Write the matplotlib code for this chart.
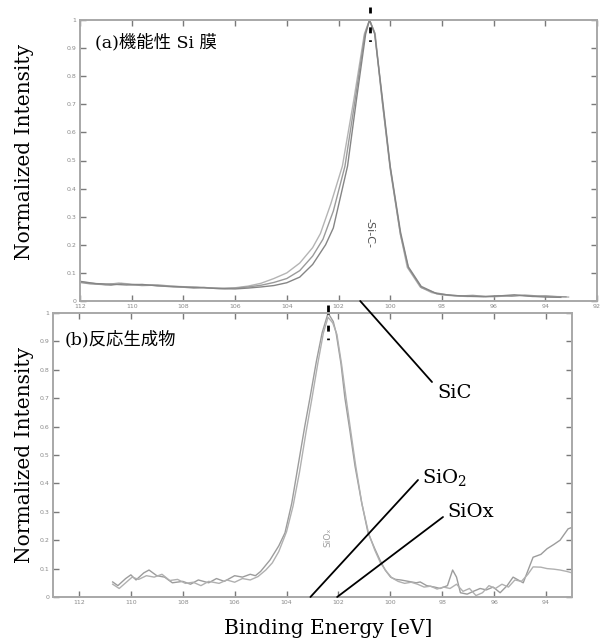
"""
XPS Si 2p spectra: (a) functional Si film, (b) reaction product.
"""
import matplotlib
matplotlib.use('Agg')
import matplotlib.pyplot as plt
from matplotlib.patches import ConnectionPatch

plt.rcParams['font.family'] = ['DejaVu Serif', 'Noto Sans CJK JP']
plt.rcParams['mathtext.fontset'] = 'dejavuserif'
plt.rcParams['lines.scale_dashes'] = False

# ---- panel (a): three Si-C spectra ----
a_energy = [112.0, 111.5, 111.0, 110.5, 110.0, 109.5, 109.0, 108.5, 108.0, 107.5,
            107.0, 106.5, 106.0, 105.5, 105.0, 104.5, 104.0, 103.5, 103.0, 102.7,
            102.3, 101.85, 101.4, 101.0, 100.8, 100.58, 100.31, 100.0, 99.61, 99.34,
            98.84, 98.4, 98.0, 97.5, 97.0, 96.5, 96.0, 95.5, 95.0, 94.5,
            94.0, 93.5, 93.1]
a_int = [0.068, 0.063, 0.058, 0.064, 0.060, 0.057, 0.058, 0.053, 0.051, 0.050,
         0.047, 0.046, 0.047, 0.053, 0.063, 0.080, 0.100, 0.135, 0.190, 0.240,
         0.345, 0.480, 0.720, 0.950, 1.000, 0.950, 0.715, 0.477, 0.240, 0.120,
         0.050, 0.030, 0.022, 0.018, 0.016, 0.017, 0.015, 0.018, 0.020, 0.016,
         0.019, 0.015, 0.014]

b_energy = [112.0, 111.6, 111.2, 110.8, 110.4, 110.0, 109.6, 109.2, 108.8, 108.4,
            108.0, 107.6, 107.2, 106.8, 106.4, 106.0, 105.5, 105.0, 104.5, 104.0,
            103.5, 103.0, 102.6, 102.2, 101.75, 101.35, 100.98, 100.8, 100.6, 100.3,
            100.0, 99.6, 99.3, 98.8, 98.3, 97.8, 97.3, 96.8, 96.3, 95.8,
            95.3, 94.8, 94.3, 93.8, 93.2]
b_int = [0.066, 0.061, 0.059, 0.056, 0.062, 0.058, 0.055, 0.056, 0.053, 0.050,
         0.049, 0.046, 0.048, 0.045, 0.044, 0.046, 0.050, 0.056, 0.066, 0.080,
         0.108, 0.160, 0.220, 0.320, 0.480, 0.720, 0.950, 1.000, 0.955, 0.705,
         0.470, 0.235, 0.118, 0.048, 0.030, 0.022, 0.018, 0.020, 0.016, 0.019,
         0.017, 0.021, 0.018, 0.016, 0.015]

c_energy = [112.0, 111.4, 110.8, 110.2, 109.6, 109.0, 108.4, 107.8, 107.2, 106.6,
            106.0, 105.5, 105.0, 104.5, 104.0, 103.5, 103.0, 102.5, 102.2, 101.65,
            101.3, 100.95, 100.8, 100.6, 100.3, 100.0, 99.6, 99.3, 98.8, 98.2,
            97.6, 97.0, 96.4, 95.8, 95.2, 94.6, 94.0, 93.4]
c_int = [0.070, 0.062, 0.060, 0.057, 0.059, 0.054, 0.052, 0.049, 0.047, 0.044,
         0.043, 0.046, 0.050, 0.055, 0.065, 0.085, 0.130, 0.200, 0.260, 0.480,
         0.720, 0.950, 1.000, 0.950, 0.720, 0.480, 0.245, 0.122, 0.052, 0.026,
         0.020, 0.017, 0.015, 0.018, 0.022, 0.017, 0.014, 0.013]

# ---- panel (b): two SiOx spectra ----
s1_energy = [110.7, 110.5, 110.2, 110.0, 109.8, 109.5, 109.3, 109.0, 108.7, 108.4,
             108.0, 107.7, 107.4, 107.0, 106.7, 106.4, 106.0, 105.7, 105.4, 105.2,
             105.0, 104.64, 104.3, 104.06, 103.8, 103.56, 103.3, 103.1, 102.85, 102.63,
             102.4, 102.2, 102.09, 101.9, 101.75, 101.55, 101.36, 101.1, 100.86, 100.6,
             100.4, 100.2, 99.99, 99.8, 99.6, 99.3, 99.0, 98.85, 98.6, 98.3,
             98.08, 97.8, 97.6, 97.45, 97.3, 97.04, 96.8, 96.54, 96.3, 96.04,
             95.77, 95.5, 95.27, 94.88, 94.5, 94.2, 93.96, 93.7, 93.46, 93.15,
             93.0]
s1_int = [0.053, 0.040, 0.065, 0.078, 0.060, 0.085, 0.095, 0.075, 0.070, 0.050,
          0.055, 0.045, 0.060, 0.050, 0.065, 0.055, 0.075, 0.070, 0.080, 0.075,
          0.090, 0.130, 0.180, 0.226, 0.330, 0.460, 0.600, 0.700, 0.830, 0.930,
          1.000, 0.970, 0.930, 0.820, 0.700, 0.580, 0.460, 0.330, 0.226, 0.170,
          0.130, 0.095, 0.070, 0.062, 0.060, 0.055, 0.050, 0.053, 0.040, 0.035,
          0.030, 0.040, 0.095, 0.070, 0.015, 0.010, 0.020, 0.030, 0.025, 0.035,
          0.015, 0.040, 0.070, 0.050, 0.140, 0.150, 0.170, 0.185, 0.200, 0.240,
          0.245]

s2_energy = [110.7, 110.45, 110.2, 109.95, 109.7, 109.4, 109.1, 108.8, 108.5, 108.2,
             107.9, 107.6, 107.3, 107.0, 106.6, 106.3, 106.0, 105.7, 105.4, 105.1,
             104.8, 104.55, 104.3, 104.0, 103.75, 103.5, 103.25, 103.02, 102.8, 102.58,
             102.4, 102.22, 102.06, 101.88, 101.72, 101.52, 101.34, 101.1, 100.84, 100.6,
             100.38, 100.15, 99.95, 99.7, 99.45, 99.2, 98.95, 98.7, 98.45, 98.2,
             97.95, 97.7, 97.45, 97.2, 96.95, 96.7, 96.45, 96.2, 95.95, 95.7,
             95.45, 95.2, 94.95, 94.7, 94.5, 94.2, 93.96, 93.7, 93.46, 93.2,
             93.0]
s2_int = [0.045, 0.030, 0.050, 0.070, 0.062, 0.075, 0.070, 0.080, 0.058, 0.062,
          0.048, 0.052, 0.040, 0.055, 0.048, 0.060, 0.052, 0.065, 0.060, 0.072,
          0.095, 0.120, 0.160, 0.230, 0.320, 0.440, 0.580, 0.700, 0.820, 0.930,
          0.985, 0.965, 0.925, 0.820, 0.710, 0.580, 0.465, 0.330, 0.225, 0.165,
          0.120, 0.090, 0.068, 0.055, 0.048, 0.052, 0.045, 0.035, 0.038, 0.028,
          0.035, 0.030, 0.045, 0.020, 0.030, 0.005, 0.015, 0.040, 0.030, 0.045,
          0.035, 0.060, 0.055, 0.080, 0.106, 0.105, 0.100, 0.098, 0.095, 0.090,
          0.085]

peak_a = 100.8          # Si-C peak position
peak_b = 102.4          # SiOx peak position
sic_anchor = 101.16     # where the SiC leader touches panel (a)
sio2_anchor = 103.08    # leader anchors on panel (b)
siox_anchor = 102.05

a_xticks = [112, 110, 108, 106, 104, 102, 100, 98, 96, 94, 92]
b_xticks = [112, 110, 108, 106, 104, 102, 100, 98, 96, 94]
y_ticks = [0, 0.1, 0.2, 0.3, 0.4, 0.5, 0.6, 0.7, 0.8, 0.9, 1.0]
y_tick_labels = ['0', '0.1', '0.2', '0.3', '0.4', '0.5', '0.6', '0.7', '0.8', '0.9', '1']

W, H = 600, 643
fig = plt.figure(figsize=(W / 100, H / 100), dpi=100)


def px_box(left, top, right, bottom):
    return [left / W, 1 - bottom / H, (right - left) / W, (bottom - top) / H]


def fig_pt(x, y):
    return (x / W, 1 - y / H)


def style_panel(ax, xlim, xticks):
    ax.set_xlim(*xlim)
    ax.set_ylim(0, 1)
    ax.set_xticks(xticks)
    ax.set_xticklabels([str(t) for t in xticks])
    ax.set_yticks(y_ticks)
    ax.set_yticklabels(y_tick_labels)
    ax.tick_params(direction='in', length=4, width=1, color='#7a7a7a',
                   labelsize=4.5, labelcolor='#8a8a8a', top=True, right=True, pad=2.5)
    for lab in ax.get_xticklabels() + ax.get_yticklabels():
        lab.set_family('DejaVu Sans')
    for s in ax.spines.values():
        s.set_color('#a8a8a8')
        s.set_linewidth(1.4)


ax_a = fig.add_axes(px_box(80, 20, 597, 301))
ax_b = fig.add_axes(px_box(53, 313, 572, 597))
style_panel(ax_a, (112, 92), a_xticks)
style_panel(ax_b, (113, 93), b_xticks)

ax_a.plot(a_energy, a_int, color='#b4b4b4', lw=1.0)
ax_a.plot(b_energy, b_int, color='#9a9a9a', lw=1.0)
ax_a.plot(c_energy, c_int, color='#858585', lw=1.0)
ax_b.plot(s1_energy, s1_int, color='#9c9c9c', lw=1.0)
ax_b.plot(s2_energy, s2_int, color='#b0b0b0', lw=1.0)

# peak markers (dash-dot, sticking out over the frame)
ax_a.plot([peak_a, peak_a], [1.046, 0.92], color='k', lw=2.0,
          dashes=[4.3, 10, 4.3, 5, 1.2, 30], clip_on=False)
ax_b.plot([peak_b, peak_b], [1.028, 0.898], color='k', lw=2.0,
          dashes=[6.5, 8, 4.3, 5, 1.2, 30], clip_on=False)

ax_a.text(peak_a, 0.242, '-Si-C-', rotation=-90, ha='center', va='center',
          fontsize=8, family='DejaVu Sans', color='#505050')
ax_b.text(peak_b, 0.21, 'SiOₓ', rotation=90, ha='center', va='center',
          fontsize=6.5, family='DejaVu Sans', color='#9a9a9a')

# panel titles
fig.text(*fig_pt(95, 43), '(a)機能性 Si 膜', va='center', fontsize=12.5)
fig.text(*fig_pt(65, 340), '(b)反応生成物', va='center', fontsize=12.5)

# axis labels
fig.text(*fig_pt(25, 152), 'Normalized Intensity', rotation=90,
         ha='center', va='center', fontsize=14.5)
fig.text(*fig_pt(25, 455), 'Normalized Intensity', rotation=90,
         ha='center', va='center', fontsize=14.5)
fig.text(*fig_pt(328, 629), 'Binding Energy [eV]', ha='center', va='center', fontsize=14.5)

# leader lines and labels
leaders = [
    (ax_a, sic_anchor, (432, 382)),
    (ax_b, sio2_anchor, (418, 480)),
    (ax_b, siox_anchor, (443, 517)),
]
for ax, anchor, end in leaders:
    cp = ConnectionPatch(xyA=(anchor, 0), coordsA=ax.transData,
                         xyB=fig_pt(*end), coordsB=fig.transFigure,
                         color='k', lw=1.3)
    fig.add_artist(cp)

fig.text(*fig_pt(437, 393), 'SiC', va='center', fontsize=14)
fig.text(*fig_pt(422, 477), 'SiO$_2$', va='center', fontsize=14)
fig.text(*fig_pt(447, 512), 'SiOx', va='center', fontsize=14)

fig.savefig('out.png', dpi=100)
